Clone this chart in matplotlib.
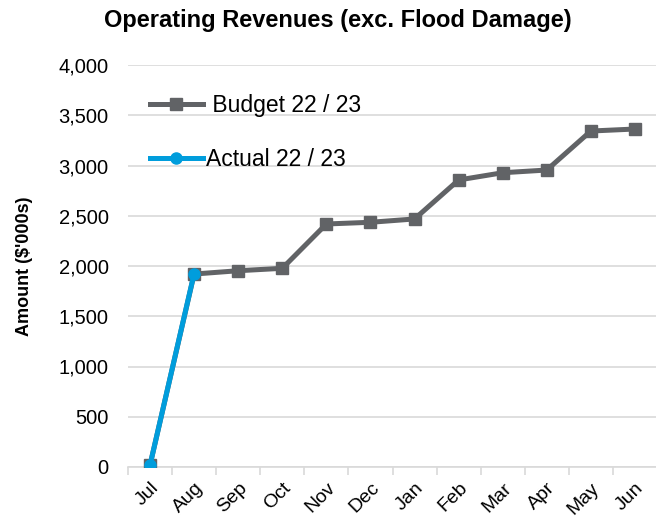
import matplotlib.pyplot as plt
from matplotlib.ticker import FuncFormatter, MultipleLocator
import numpy as np

plt.rcParams['font.family'] = ['Liberation Sans', 'DejaVu Sans']

months = ["Jul", "Aug", "Sep", "Oct", "Nov", "Dec", "Jan", "Feb", "Mar", "Apr", "May", "Jun"]
budget = [20, 1920, 1953, 1977, 2418, 2435, 2468, 2856, 2928, 2955, 3343, 3363]
actual = [20, 1925]

grey = "#616366"
blue = "#009ddc"

fig = plt.figure(figsize=(6.56, 5.21), dpi=100)
ax = fig.add_axes([128 / 656, 1 - 467 / 521, 529 / 656, 402 / 521])

x = np.arange(len(months))
ax.plot(x, budget, color=grey, lw=3.6, marker="s", ms=8, label=" Budget 22 / 23", zorder=3)
ax.plot(x[:len(actual)], actual, color=blue, lw=3.6, marker="o", ms=8, label="Actual 22 / 23", zorder=4)

ax.set_xlim(-0.5, len(months) - 0.5)
ax.set_ylim(0, 4000)
ax.yaxis.set_major_locator(MultipleLocator(500))
ax.yaxis.set_major_formatter(FuncFormatter(lambda v, p: f"{int(v):,}"))
ax.grid(axis="y", color="#d9d9d9", lw=1.2)
ax.set_axisbelow(True)

ax.set_xticks(x)
ax.set_xticklabels(months, rotation=45, ha="right", rotation_mode="anchor")
ax.set_xticks(np.arange(-0.5, len(months)), minor=True)
ax.tick_params(axis="x", which="major", length=0, pad=9, labelsize=14)
ax.tick_params(axis="x", which="minor", length=6, color="#d9d9d9", width=1.2)
ax.tick_params(axis="y", length=0, pad=14, labelsize=14.5)

for s in ["left", "right", "top"]:
    ax.spines[s].set_visible(False)
ax.spines["bottom"].set_color("#d9d9d9")
ax.spines["bottom"].set_linewidth(1.2)

ax.set_ylabel("Amount ($'000s)", fontsize=13, fontweight="bold", labelpad=18)
fig.suptitle("Operating Revenues (exc. Flood Damage)", fontsize=17, fontweight="bold",
             x=338 / 656, y=1 - 20 / 521, va="center")

ax.legend(loc="upper left", bbox_to_anchor=(0.02, 0.957), frameon=False, fontsize=16.5,
          handlelength=2.3, handletextpad=0.15, labelspacing=1.35, borderpad=0)

fig.savefig("out.png", dpi=100)
